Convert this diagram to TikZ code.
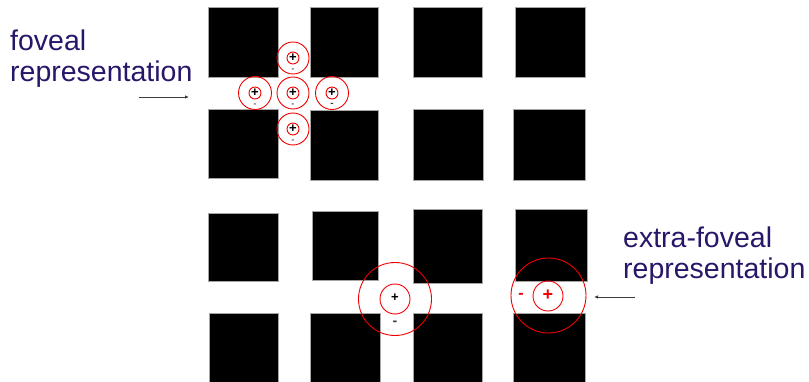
\documentclass[tikz,border=0pt]{standalone}
\usepackage{fontspec}
\setmainfont{Liberation Sans}
\usetikzlibrary{arrows.meta}
\definecolor{labelblue}{RGB}{40,22,105}
\definecolor{rfred}{RGB}{240,0,0}
\definecolor{signgray}{RGB}{60,60,60}

\begin{document}
\begin{tikzpicture}[x=1pt,y=1pt,yscale=-1,
  blk/.style={fill=black,draw=gray!70,line width=0.6pt},
  rf/.style={draw=rfred,line width=0.9pt},
  lbl/.style={text=labelblue,font=\fontsize{28.5}{31}\selectfont,inner sep=0pt,anchor=north west,align=left},
  sgn/.style={inner sep=0pt,font=\bfseries\fontsize{13}{13}\selectfont},
  tiny/.style={inner sep=0pt,text=signgray,font=\bfseries\fontsize{8}{8}\selectfont}]
\useasboundingbox (0,0) rectangle (809,382);

%Shape: upper grid, first row
\draw [blk] (208,7) rectangle (278,77);
\draw [blk] (310,7) rectangle (378,77);
\draw [blk] (413,7) rectangle (482,77);
\draw [blk] (515,7) rectangle (585,77);
%Shape: upper grid, second row
\draw [blk] (208,109) rectangle (278,178);
\draw [blk] (310,110) rectangle (378,180);
\draw [blk] (413,109) rectangle (483,180);
\draw [blk] (513,109) rectangle (585,180);
%Shape: lower grid, first row
\draw [blk] (208,213) rectangle (278,281);
\draw [blk] (312,211) rectangle (378,280);
\draw [blk] (413,209) rectangle (482,283);
\draw [blk] (515,209) rectangle (587,281);
%Shape: lower grid, second row
\draw [blk] (209,313) rectangle (278,384);
\draw [blk] (310,313) rectangle (380,384);
\draw [blk] (413,313) rectangle (482,384);
\draw [blk] (513,313) rectangle (585,384);

%Circles: foveal receptive fields
\draw [rf] (293,58) circle (16pt) (293,58) circle (6pt);
\draw [rf] (255,93) circle (16.5pt) (255,93) circle (6pt);
\draw [rf] (293,93) circle (16pt) (293,93) circle (6pt);
\draw [rf] (332,93) circle (16.5pt) (332,93) circle (6pt);
\draw [rf] (293,129) circle (16pt) (293,129) circle (6pt);
% signs
\node [sgn] (fplus1) at (293,58) {+};
\node [sgn] (fplus2) at (255,93) {+};
\node [sgn] (fplus3) at (293,93) {+};
\node [sgn] (fplus4) at (332,92.5) {+};
\node [sgn] (fplus5) at (293,129) {+};
\node [tiny] (fminus1) at (293,70.5) {-};
\node [tiny] (fminus2) at (255,105.5) {-};
\node [tiny] (fminus3) at (293,105.5) {-};
\node [tiny,font=\bfseries\fontsize{10}{10}\selectfont] (fminus4) at (332,104.5) {-};
\node [tiny] (fminus5) at (293,141.5) {-};

%Circles: extra-foveal receptive fields
\draw [rf] (395,299) circle (36.5pt) (395,299) circle (15pt);
\draw [rf] (548.5,295.5) circle (37.5pt) (548,296) circle (15pt);
\node [sgn] (eplus1) at (395,298) {+};
\node [sgn,text=signgray,font=\bfseries\fontsize{14}{14}\selectfont] (eminus1) at (395,323) {-};
\node [sgn,text=rfred,font=\bfseries\fontsize{18}{18}\selectfont] (eplus2) at (548,295) {+};
\node [sgn,text=rfred,font=\bfseries\fontsize{16}{16}\selectfont] (eminus2) at (521,296) {-};

% Text Node
\node [lbl] (foveal) at (10,29.5) {foveal\\representation};
\node [lbl] (extra) at (623,227) {extra-foveal\\representation};

%Straight Lines
\coordinate (ftail) at (139,97);
\coordinate (fhead) at (189,97);
\coordinate (etail) at (635,297);
\coordinate (ehead) at (594,297);
\draw [signgray,line width=0.8pt,-{Latex[length=4pt,width=3.5pt]}] (ftail) -- (fhead);
\draw [signgray,line width=0.8pt,-{Latex[length=4pt,width=3.5pt]}] (etail) -- (ehead);

\end{tikzpicture}
\end{document}
